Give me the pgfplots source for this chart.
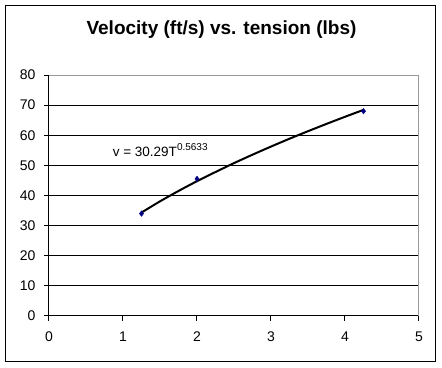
\documentclass[border=0pt]{standalone}
\usepackage{fontspec}
\setmainfont{Liberation Sans}
\usepackage{pgfplots}
\pgfplotsset{compat=1.18}
\definecolor{navy}{RGB}{0,0,128}
\begin{document}
\begin{tikzpicture}
\path[use as bounding box] (0pt,0pt) rectangle (442pt,367pt);
\fill[white] (0pt,0pt) rectangle (442pt,367pt);
\draw[black, line width=1pt] (5.5pt,5.5pt) rectangle (435.5pt,361.5pt);
\node[anchor=base, inner sep=0pt, font=\bfseries\fontsize{19}{22}\selectfont] at (221.5pt,332pt) {Velocity (ft/s) vs. tension (lbs)};
\begin{axis}[
  at={(49pt,51pt)}, anchor=south west, scale only axis,
  width=370pt, height=241pt,
  xmin=0, xmax=5, ymin=0, ymax=80,
  xtick={0,1,2,3,4,5}, ytick={0,10,20,30,40,50,60,70,80},
  axis lines=left, axis line style={-, black, line width=1pt},
  ymajorgrids, grid style={black, line width=1pt},
  tick align=outside, major tick length=5pt,
  tick style={black, line width=1pt},
  ticklabel style={font=\fontsize{14}{16}\selectfont},
  yticklabel style={xshift=-5pt},
  xticklabel style={yshift=-7pt},
  /pgf/number format/assume math mode=true,
  clip=false,
]
\addplot[black, line width=2pt, smooth] coordinates {
 (1.25,34.35) (1.5,38.06) (1.75,41.5) (2,44.76) (2.25,47.8) (2.5,50.75) (2.75,53.55) (3,56.24) (3.25,58.85) (3.5,61.34) (3.75,63.77) (4,66.13) (4.25,68.43)};
\addplot[only marks, mark=diamond*, mark size=2.8pt, color=navy] coordinates {
 (1.25,34) (2,45.5) (4.25,68)};
\draw[gray!80, line width=1pt] (axis cs:0,80) -- (axis cs:5,80) -- (axis cs:5,0);
\node[anchor=base west, inner sep=0pt, font=\fontsize{13.5}{15}\selectfont] at (axis cs:0.86,52.8) {v = 30.29T\raisebox{6pt}{\fontsize{10}{11}\selectfont 0.5633}};
\end{axis}
\end{tikzpicture}
\end{document}
